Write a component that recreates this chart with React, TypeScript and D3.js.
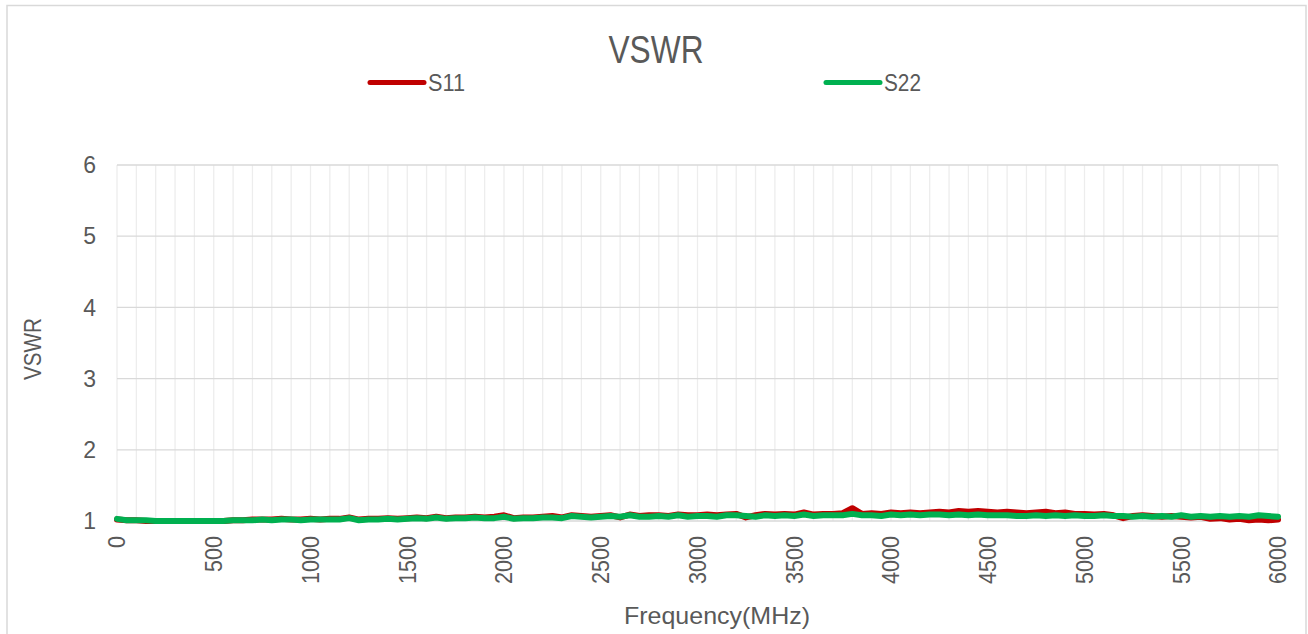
import React from "react";
import * as d3 from "d3";

const title = "VSWR";
const xTitle = "Frequency(MHz)";
const yTitle = "VSWR";
const seriesNames = ["S11", "S22"];
const seriesColors = ["#C00000", "#00B050"];
const xTicks = [0, 500, 1000, 1500, 2000, 2500, 3000, 3500, 4000, 4500, 5000, 5500, 6000];
const yTicks = [1, 2, 3, 4, 5, 6];
const freqStep = 50;

const s11 = [
  1.02, 1.01, 1.01, 1.0, 1.0, 1.0, 1.0, 1.0, 1.0, 1.0, 1.0, 1.0, 1.01,
  1.01, 1.02, 1.02, 1.02, 1.03, 1.02, 1.02, 1.03,
  1.02, 1.03, 1.03, 1.05, 1.02, 1.03, 1.03, 1.04, 1.03, 1.04,
  1.05, 1.04, 1.06, 1.04, 1.05, 1.05, 1.06, 1.05, 1.06, 1.08,
  1.04, 1.05, 1.05, 1.06, 1.07, 1.05, 1.08, 1.07, 1.06, 1.07,
  1.08, 1.05, 1.09, 1.07, 1.08, 1.08, 1.07, 1.09, 1.08, 1.08,
  1.09, 1.08, 1.09, 1.1, 1.05, 1.08, 1.1, 1.09, 1.1, 1.09,
  1.12, 1.09, 1.1, 1.1, 1.11, 1.18, 1.1, 1.11, 1.1, 1.12,
  1.11, 1.12, 1.11, 1.12, 1.13, 1.12, 1.14, 1.13, 1.14, 1.13,
  1.12, 1.13, 1.12, 1.11, 1.12, 1.13, 1.11, 1.12, 1.1, 1.1,
  1.09, 1.1, 1.08, 1.04, 1.07, 1.08, 1.07, 1.06, 1.07, 1.06,
  1.05, 1.06, 1.03, 1.04, 1.02, 1.03, 1.01, 1.02, 1.01, 1.02,
];

const s22 = [
  1.03, 1.01, 1.01, 1.01, 1.0, 1.0, 1.0, 1.0, 1.0, 1.0, 1.0, 1.0, 1.01,
  1.01, 1.01, 1.02, 1.01, 1.02, 1.02, 1.01, 1.02,
  1.02, 1.02, 1.02, 1.04, 1.01, 1.02, 1.02, 1.03, 1.02, 1.03,
  1.04, 1.03, 1.05, 1.03, 1.04, 1.04, 1.05, 1.04, 1.04, 1.06,
  1.03, 1.04, 1.04, 1.05, 1.05, 1.04, 1.07, 1.06, 1.05, 1.06,
  1.07, 1.06, 1.08, 1.06, 1.06, 1.07, 1.06, 1.08, 1.06, 1.07,
  1.07, 1.06, 1.08, 1.08, 1.07, 1.06, 1.08, 1.07, 1.08, 1.07,
  1.09, 1.07, 1.08, 1.08, 1.08, 1.1, 1.08, 1.08, 1.07, 1.09,
  1.08, 1.09, 1.08, 1.09, 1.09, 1.08, 1.09, 1.08, 1.09, 1.08,
  1.08, 1.08, 1.07, 1.07, 1.08, 1.07, 1.08, 1.07, 1.08, 1.07,
  1.07, 1.08, 1.07, 1.07, 1.06, 1.07, 1.06, 1.07, 1.06, 1.08,
  1.06, 1.07, 1.06, 1.07, 1.06, 1.07, 1.06, 1.08, 1.07, 1.06,
];

const seriesData = [s11, s22];

const W = 1308;
const H = 634;
const plot = { left: 117, right: 1278, top: 165, bottom: 521 };
const textColor = "#595959";
const font = "'Liberation Sans', Arial, sans-serif";

export default function App() {
  const x = d3.scaleLinear().domain([0, 6000]).range([plot.left, plot.right]);
  const y = d3.scaleLinear().domain([1, 6]).range([plot.bottom, plot.top]);
  const minorX = d3.range(0, 6001, 100);
  const line = d3
    .line<number>()
    .x((_, i) => x(i * freqStep))
    .y((d) => y(d));

  const legendItems = [
    { x0: 370, x1: 424, tx: 428, tw: 37 },
    { x0: 826, x1: 880, tx: 884, tw: 37 },
  ];

  return (
    <svg
      width={W}
      height={H}
      style={{ position: "absolute", left: 0, top: 0, background: "#fff" }}
      fontFamily={font}
    >
      <rect x={7} y={5.5} width={1299} height={700} fill="#fff" stroke="#D9D9D9" strokeWidth={1.5} />
      {minorX.map((v) => (
        <line key={"v" + v} x1={x(v)} x2={x(v)} y1={plot.top} y2={plot.bottom} stroke="#EDEDED" strokeWidth={1.3} />
      ))}
      {yTicks.map((v) => (
        <line key={"h" + v} x1={plot.left} x2={plot.right} y1={y(v)} y2={y(v)} stroke="#D9D9D9" strokeWidth={1.3} />
      ))}
      {yTicks.map((v) => (
        <text key={"yl" + v} x={96} y={y(v)} dy="0.36em" textAnchor="end" fontSize={23} fill={textColor}>
          {v}
        </text>
      ))}
      {xTicks.map((v) => {
        const s = String(v);
        return (
          <text
            key={"xl" + v}
            transform={`translate(${x(v)},536) rotate(-90)`}
            textAnchor="end"
            dy="0.36em"
            fontSize={23}
            fill={textColor}
            textLength={s.length * 12}
            lengthAdjust="spacingAndGlyphs"
          >
            {s}
          </text>
        );
      })}
      {seriesData.map((data, k) => (
        <path
          key={"s" + k}
          d={line(data) || ""}
          fill="none"
          stroke={seriesColors[k]}
          strokeWidth={6}
          strokeLinejoin="round"
          strokeLinecap="round"
        />
      ))}
      <text x={656} y={63} textAnchor="middle" fontSize={38} fill={textColor} textLength={95} lengthAdjust="spacingAndGlyphs">
        {title}
      </text>
      {legendItems.map((it, k) => (
        <g key={"lg" + k}>
          <line x1={it.x0} x2={it.x1} y1={82.5} y2={82.5} stroke={seriesColors[k]} strokeWidth={5} strokeLinecap="round" />
          <text x={it.tx} y={91} fontSize={24} fill={textColor} textLength={it.tw} lengthAdjust="spacingAndGlyphs">
            {seriesNames[k]}
          </text>
        </g>
      ))}
      <text
        transform="translate(41,349) rotate(-90)"
        textAnchor="middle"
        fontSize={24}
        fill={textColor}
        textLength={62}
        lengthAdjust="spacingAndGlyphs"
      >
        {yTitle}
      </text>
      <text x={717} y={624} textAnchor="middle" fontSize={24} fill={textColor} textLength={186} lengthAdjust="spacingAndGlyphs">
        {xTitle}
      </text>
    </svg>
  );
}
